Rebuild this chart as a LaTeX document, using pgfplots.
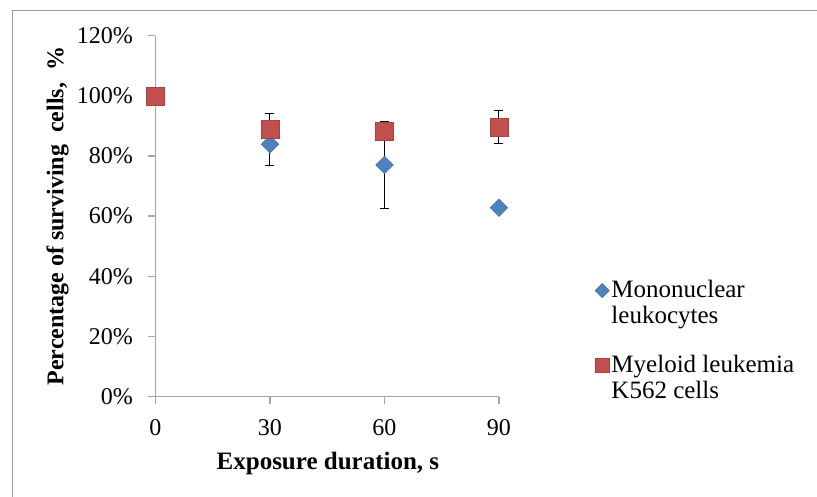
\documentclass[border=0pt]{standalone}
\usepackage{fontspec}
\setmainfont{Liberation Serif}
\usepackage{pgfplots}
\pgfplotsset{compat=1.18}

\definecolor{mono}{HTML}{4F81BD}
\definecolor{monoedge}{HTML}{3F6FAA}
\definecolor{myel}{HTML}{C0504D}
\definecolor{myeledge}{HTML}{B0403D}
\definecolor{axisgray}{HTML}{A6A6A6}
\definecolor{framegray}{HTML}{9A9A9A}

\begin{document}
\begin{tikzpicture}
% page extent and outer chart frame
\path[use as bounding box] (-155.5bp,-100.5bp) rectangle (661.5bp,396.5bp);
\draw[framegray, line width=1.4bp] (-142.8bp,-101bp) -- (-142.8bp,385.8bp) -- (662bp,385.8bp);
\begin{axis}[
  at={(0,0)}, anchor=south west,
  scale only axis, width=343.5bp, height=360.8bp,
  xmin=0, xmax=90, ymin=0, ymax=120,
  axis x line=bottom, axis y line=left,
  axis line style={-, draw=axisgray, line width=1.2bp},
  xtick={0,30,60,90}, ytick={0,20,...,120},
  yticklabel={\pgfmathprintnumber{\tick}\%},
  tick align=outside, major tick length=7bp,
  tick style={draw=axisgray, line width=1.2bp},
  /pgf/number format/assume math mode=true,
  tick label style={font=\fontsize{24bp}{28bp}\selectfont},
  yticklabel style={xshift=-12bp},
  xticklabel style={yshift=-13bp},
  every axis x label/.style={at={(axis description cs:0.502,-0.2037)}, anchor=base,
    font=\fontsize{25bp}{28bp}\selectfont\bfseries},
  every axis y label/.style={at={(axis description cs:-0.2684,0.5)}, anchor=base, rotate=90,
    font=\fontsize{24bp}{28bp}\selectfont\bfseries},
  xlabel={Exposure duration, s},
  ylabel={Percentage of surviving\ \ cells,\ \ \%},
  clip=false,
  legend style={draw=none, fill=none, at={(axis description cs:1.27,0.334)}, anchor=north west,
    font=\fontsize{25bp}{26bp}\selectfont, nodes={align=left}, row sep=26bp},
  legend cell align=left,
  % legend markers sit beside the first line of each two-line entry
  legend image code/.code={\draw[#1, every mark/.append style={scale=0.81}]
    plot coordinates {(0.2cm,12bp)};},
  error bars/y dir=both, error bars/y explicit,
  error bars/error bar style={black, line width=1bp},
  error bars/error mark options={black, line width=1bp, mark size=4.5bp, rotate=90},
]
% mononuclear leukocytes
\addplot[only marks, mark=square*, mark size=6.2bp,
  mark options={rotate=45, fill=mono, draw=monoedge, line width=0.5bp}]
  coordinates {
    (0,100)  +- (0,0)
    (30,83.9) +- (0,7.2)
    (60,77.0) +- (0,14.6)
    (90,62.8) +- (0,1.0)
  };
\addlegendentry{Mononuclear\\leukocytes}
% myeloid leukemia K562 cells
\addplot[only marks, mark=square*, mark size=9bp,
  mark options={fill=myel, draw=myeledge, line width=0.6bp}]
  coordinates {
    (0,100)  +- (0,0)
    (30,88.9) +- (0,5.1)
    (60,88.2) +- (0,2.5)
    (90,89.6) +- (0,5.6)
  };
\addlegendentry{Myeloid leukemia\\K562 cells}
\end{axis}
\end{tikzpicture}
\end{document}
